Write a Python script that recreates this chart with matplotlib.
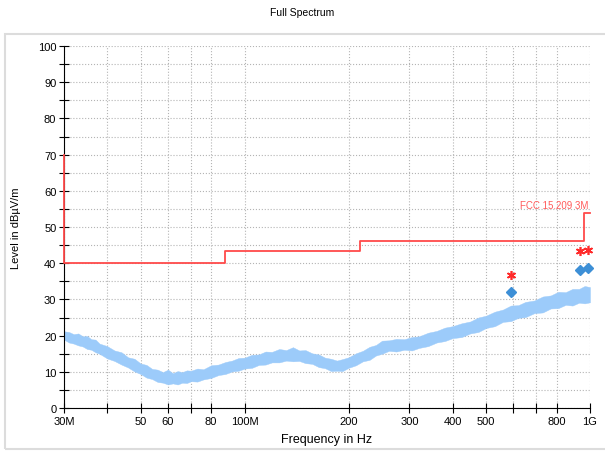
import matplotlib as mpl
import matplotlib.pyplot as plt
from matplotlib.patches import Rectangle

mpl.rcParams["font.family"] = ["Liberation Sans", "DejaVu Sans"]
mpl.rcParams["font.size"] = 8

# measured trace (MHz, dBuV/m), read as lower / upper edge of the noise band
freq = [30, 31, 32, 33, 34, 35, 36, 37, 38, 40, 42, 44, 46, 48, 50, 52, 54, 56,
        58, 60, 62, 64, 66, 68, 70, 73, 76, 80, 84, 88, 92, 96, 100, 105, 110,
        115, 120, 126, 132, 138, 144, 150, 157, 164, 171, 178, 185, 192, 200,
        210, 220, 230, 240, 250, 262, 275, 290, 305, 320, 340, 360, 380, 400,
        425, 450, 475, 500, 530, 560, 590, 620, 650, 690, 730, 770, 810, 850,
        890, 930, 965, 1000]
level_hi = [21.2, 21.0, 20.4, 20.6, 19.8, 19.9, 19.0, 18.9, 17.8, 17.1, 15.9,
            15.4, 14.0, 13.6, 12.3, 11.9, 10.8, 10.6, 9.9, 10.6, 9.6, 10.2, 9.9,
            10.4, 10.3, 10.9, 10.7, 11.8, 12.0, 12.7, 13.1, 13.8, 13.9, 14.7,
            14.8, 15.6, 15.5, 16.3, 16.0, 16.8, 15.9, 16.0, 15.1, 14.8, 13.9,
            13.6, 13.1, 13.5, 14.0, 15.1, 15.8, 16.9, 17.4, 18.6, 18.7, 19.1,
            19.0, 19.6, 19.8, 20.8, 21.3, 22.2, 22.6, 23.4, 23.9, 25.0, 25.5,
            26.6, 27.2, 28.3, 28.4, 29.3, 29.7, 30.8, 31.1, 32.1, 32.0, 32.9,
            32.9, 33.7, 33.4]
level_lo = [18.9, 18.1, 17.8, 17.3, 17.0, 16.3, 16.1, 15.4, 15.0, 13.7, 13.0,
            12.0, 11.2, 10.1, 9.4, 8.4, 8.0, 7.2, 7.0, 6.5, 6.8, 6.5, 7.0, 6.9,
            7.4, 7.3, 7.9, 8.3, 9.1, 9.4, 10.1, 10.3, 10.9, 11.1, 11.9, 12.0,
            12.6, 12.6, 13.1, 12.9, 13.0, 12.4, 12.2, 11.3, 11.0, 10.2, 10.3,
            10.2, 11.1, 11.8, 12.9, 13.3, 14.5, 15.0, 15.8, 15.6, 16.1, 15.9,
            16.6, 17.1, 18.1, 18.5, 19.3, 19.6, 20.6, 21.0, 22.1, 22.6, 23.8,
            24.0, 24.9, 25.1, 26.2, 26.4, 27.5, 27.6, 28.5, 28.3, 29.1, 28.9,
            29.2]

# FCC 15.209 3m limit
limit_f = [30, 30, 88, 88, 216, 216, 960, 960, 1000]
limit_db = [70, 40, 40, 43.5, 43.5, 46, 46, 54, 54]

# peak (asterisk) and quasi-peak (diamond) findings
pk_f = [590, 935, 988]
pk_db = [36.8, 43.5, 43.6]
qp_f = [590, 935, 988]
qp_db = [32.0, 38.0, 38.6]

xticks = [30, 40, 50, 60, 70, 80, 100, 200, 300, 400, 500, 600, 700, 800, 1000]
xlabels = ["30M", "", "50", "60", "", "80", "100M", "200", "300", "400", "500",
           "", "", "800", "1G"]

fig = plt.figure(figsize=(6.05, 4.52), dpi=100)
fig.patches.append(Rectangle((0.008, 0.004), 1.0, 0.918, transform=fig.transFigure,
                             fill=False, edgecolor="#dcdcdc", linewidth=1.5))
ax = fig.add_axes([0.1058, 0.0951, 0.8694, 0.8009])

ax.fill_between(freq, level_lo, level_hi, color="#9ccbfa", linewidth=0.3,
                edgecolor="#9ccbfa", zorder=2)
ax.plot(limit_f, limit_db, color="#ff4a4a", linewidth=1.3, zorder=5,
        clip_on=False)
ax.text(992, 54.8, "FCC 15.209 3M", color="#ff5a5a", fontsize=7, ha="right",
        va="bottom")
ax.plot(qp_f, qp_db, linestyle="none", marker="D", markersize=5,
        color="#3d8fd6", clip_on=False)
ax.plot(pk_f, pk_db, linestyle="none", marker=(6, 2, 0), markersize=6.5,
        color="#ff2a2a", markeredgewidth=1.2, clip_on=False)

ax.set_xscale("log")
ax.set_xlim(30, 1000)
ax.set_ylim(0, 100)
ax.set_xticks(xticks)
ax.set_xticklabels(xlabels)
ax.xaxis.set_minor_locator(mpl.ticker.NullLocator())
ax.set_yticks(range(0, 101, 10))
ax.set_yticks(range(5, 100, 10), minor=True)
ax.tick_params(direction="inout", length=7, width=0.8, labelsize=8, pad=2)
ax.tick_params(which="minor", direction="inout", length=7, width=0.8)
ax.grid(True, which="both", color="#b4b4b4", linestyle=":", linewidth=0.8)
for side in ["top", "right"]:
    ax.spines[side].set_visible(False)

ax.set_xlabel("Frequency in Hz", fontsize=9, labelpad=5)
ax.set_ylabel("Level in dBµV/m", fontsize=8, labelpad=12)
fig.text(0.5, 0.972, "Full Spectrum", ha="center", va="center", fontsize=7.5)

fig.savefig("out.png", dpi=100)
